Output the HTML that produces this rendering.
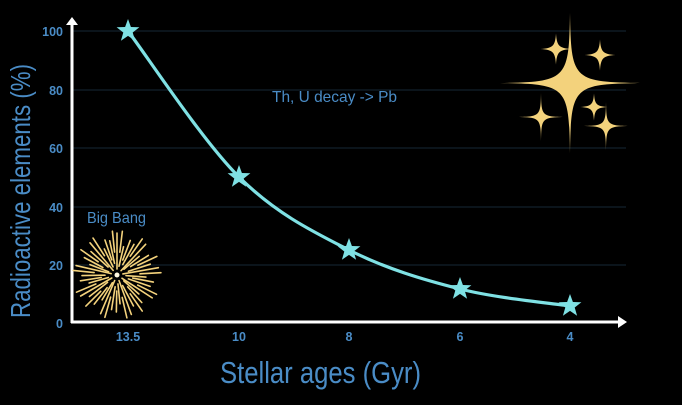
<!DOCTYPE html>
<html><head><meta charset="utf-8"><style>
html,body{margin:0;padding:0;background:#000;}
svg{display:block;}
</style></head><body>
<svg width="682" height="405" viewBox="0 0 682 405" xmlns="http://www.w3.org/2000/svg">
<rect width="682" height="405" fill="#000"/>
<defs>
<path id="bigspark" d="M0,-1 C0.015,-0.045 0.045,-0.015 1,0 C0.045,0.015 0.015,0.045 0,1 C-0.015,0.045 -0.045,0.015 -1,0 C-0.045,-0.015 -0.015,-0.045 0,-1 Z"/>
<path id="smspark" d="M0,-1 C0.05,-0.2 0.2,-0.05 1,0 C0.2,0.05 0.05,0.2 0,1 C-0.05,0.2 -0.2,0.05 -1,0 C-0.2,-0.05 -0.05,-0.2 0,-1 Z"/>
<polygon id="star5" points="0,-12 2.9,-4 11.4,-3.7 4.7,1.5 7.1,9.7 0,4.9 -7.1,9.7 -4.7,1.5 -11.4,-3.7 -2.9,-4"/>
<line id="fa" x1="0" y1="-6" x2="0" y2="-42"/>
<line id="fb" x1="0" y1="-16" x2="0" y2="-37"/>
<line id="fc" x1="0" y1="-9" x2="0" y2="-29"/>
<line id="fd" x1="0" y1="-23" x2="0" y2="-44"/>
<line id="fe" x1="0" y1="-12" x2="0" y2="-35"/>
</defs>
<g stroke="#0f1b24" stroke-width="1.5">
<line x1="72" y1="31" x2="626" y2="31"/>
<line x1="72" y1="90" x2="626" y2="90"/>
<line x1="72" y1="148" x2="626" y2="148"/>
<line x1="72" y1="207" x2="626" y2="207"/>
<line x1="72" y1="265" x2="626" y2="265"/>
</g>
<g stroke="#fff" stroke-width="3">
<line x1="72" y1="323" x2="72" y2="24"/>
<line x1="71" y1="322" x2="619" y2="322"/>
</g>
<polygon points="66,25 78,25 72,17" fill="#fff"/>
<polygon points="618,316 618,328 627,322" fill="#fff"/>
<g font-family="Liberation Sans, sans-serif" font-weight="bold" font-size="12.5" fill="#4a8cc6" text-anchor="end">
<text x="63" y="36">100</text>
<text x="63" y="95">80</text>
<text x="63" y="153">60</text>
<text x="63" y="212">40</text>
<text x="63" y="270">20</text>
<text x="63" y="328">0</text>
</g>
<g font-family="Liberation Sans, sans-serif" font-weight="bold" font-size="12.5" fill="#4a8cc6" text-anchor="middle">
<text x="128" y="341">13.5</text>
<text x="239" y="341">10</text>
<text x="349" y="341">8</text>
<text x="460" y="341">6</text>
<text x="570" y="341">4</text>
</g>
<text x="220" y="383" font-family="Liberation Sans, sans-serif" font-size="31" fill="#4a8cc6" textLength="201" lengthAdjust="spacingAndGlyphs">Stellar ages (Gyr)</text>
<text transform="translate(30,318) rotate(-90)" x="0" y="0" font-family="Liberation Sans, sans-serif" font-size="28" fill="#4a8cc6" textLength="254" lengthAdjust="spacingAndGlyphs">Radioactive elements (%)</text>
<text x="87" y="223" font-family="Liberation Sans, sans-serif" font-size="16" fill="#4a8cc6" textLength="59" lengthAdjust="spacingAndGlyphs">Big Bang</text>
<text x="272" y="102" font-family="Liberation Sans, sans-serif" font-size="16" fill="#4a8cc6" textLength="125" lengthAdjust="spacingAndGlyphs">Th, U decay -&gt; Pb</text>
<path d="M128,31 C146.5,55.3 202.2,140.5 239,177 C275.8,213.5 312.2,231.3 349,250 C385.8,268.7 423.2,279.7 460,289 C496.8,298.3 551.7,303.2 570,306" fill="none" stroke="#7fe1e4" stroke-width="3.2"/>
<g fill="#7fe1e4">
<use href="#star5" transform="translate(128,31)"/>
<use href="#star5" transform="translate(239,177)"/>
<use href="#star5" transform="translate(349,250)"/>
<use href="#star5" transform="translate(460,289)"/>
<use href="#star5" transform="translate(570,306)"/>
</g>
<g fill="#f3d27c">
<use href="#bigspark" transform="translate(570,83) scale(70)"/>
<use href="#smspark" transform="translate(556,49) scale(15.5)"/>
<use href="#smspark" transform="translate(600,55) scale(15.5)"/>
<use href="#smspark" transform="translate(594,107) scale(13.5)"/>
<use href="#bigspark" transform="translate(541,117) scale(24)"/>
<use href="#smspark" transform="translate(541,117) scale(7)"/>
<use href="#bigspark" transform="translate(606,126) scale(24)"/>
<use href="#smspark" transform="translate(606,126) scale(7)"/>
</g>
<g transform="translate(117,275)" stroke="#f3d27c" stroke-width="1.6" stroke-linecap="round">
<use href="#fa" transform="rotate(0)"/><use href="#fd" transform="rotate(7)"/><use href="#fc" transform="rotate(13)"/><use href="#fb" transform="rotate(21)"/><use href="#fe" transform="rotate(29)"/><use href="#fd" transform="rotate(35)"/><use href="#fa" transform="rotate(43)"/><use href="#fc" transform="rotate(50)"/><use href="#fb" transform="rotate(58)"/><use href="#fd" transform="rotate(65)"/><use href="#fe" transform="rotate(72)"/><use href="#fa" transform="rotate(80)"/><use href="#fd" transform="rotate(87)"/><use href="#fc" transform="rotate(94)"/><use href="#fb" transform="rotate(101)"/><use href="#fe" transform="rotate(109)"/><use href="#fd" transform="rotate(116)"/><use href="#fa" transform="rotate(123)"/><use href="#fc" transform="rotate(131)"/><use href="#fb" transform="rotate(138)"/><use href="#fd" transform="rotate(145)"/><use href="#fe" transform="rotate(152)"/><use href="#fa" transform="rotate(160)"/><use href="#fd" transform="rotate(167)"/><use href="#fc" transform="rotate(174)"/><use href="#fb" transform="rotate(181)"/><use href="#fe" transform="rotate(189)"/><use href="#fd" transform="rotate(196)"/><use href="#fa" transform="rotate(203)"/><use href="#fc" transform="rotate(211)"/><use href="#fb" transform="rotate(218)"/><use href="#fd" transform="rotate(225)"/><use href="#fe" transform="rotate(232)"/><use href="#fa" transform="rotate(240)"/><use href="#fd" transform="rotate(247)"/><use href="#fc" transform="rotate(254)"/><use href="#fb" transform="rotate(261)"/><use href="#fe" transform="rotate(269)"/><use href="#fd" transform="rotate(276)"/><use href="#fa" transform="rotate(283)"/><use href="#fc" transform="rotate(291)"/><use href="#fb" transform="rotate(298)"/><use href="#fd" transform="rotate(305)"/><use href="#fe" transform="rotate(312)"/><use href="#fa" transform="rotate(320)"/><use href="#fd" transform="rotate(327)"/><use href="#fc" transform="rotate(334)"/><use href="#fb" transform="rotate(341)"/><use href="#fe" transform="rotate(348)"/><use href="#fd" transform="rotate(354)"/>
<circle cx="0" cy="0" r="2.5" fill="#fff8e0" stroke="none"/>
</g>
</svg>
</body></html>
